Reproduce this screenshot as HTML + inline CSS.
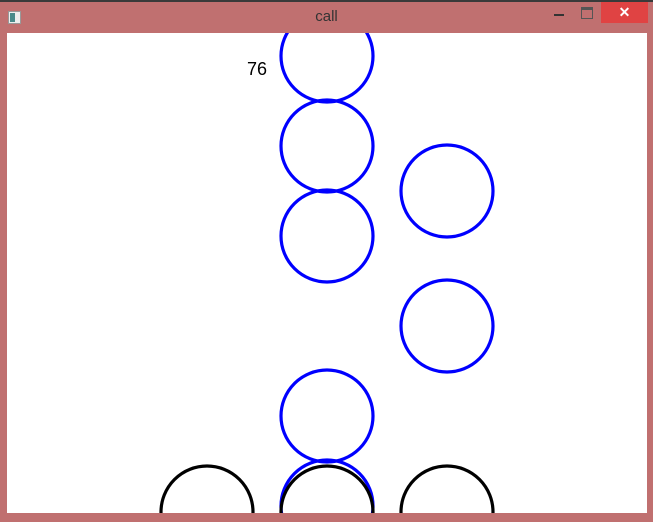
<!DOCTYPE html>
<html style="overflow:hidden;width:653px;height:522px"><head><meta charset="utf-8"><style>
html,body{margin:0;padding:0}
body{width:653px;height:522px;overflow:hidden;background:#c07070;position:relative;font-family:"Liberation Sans",sans-serif}
#title{position:absolute;left:0;width:653px;top:8px;text-align:center;font-size:15px;color:#333}
#client{position:absolute;left:7px;top:33px;width:640px;height:480px;background:#fff;overflow:hidden}
</style></head><body>
<div style="position:absolute;left:0;top:0;width:653px;height:2px;background:#3a3a3a"></div>
<div style="position:absolute;left:8px;top:11px;width:11px;height:11px;background:#eee;border:1px solid #999"><div style="width:5px;height:9px;margin:1px;background:#4a8a8a"></div></div>
<div id="title">call</div>
<div style="position:absolute;left:554px;top:14px;width:10px;height:2px;background:#333"></div>
<div style="position:absolute;left:581px;top:7px;width:10px;height:8px;border:1px solid #555;border-top-width:3px"></div>
<div style="position:absolute;left:601px;top:2px;width:47px;height:21px;background:#e04343;color:#fff;text-align:center;font-weight:bold;font-size:14px;line-height:21px">✕</div>
<div id="client">
<svg width="640" height="480" id="svg" style="display:block">
<text x="240" y="42" font-size="18" fill="#000" font-family="Liberation Sans, sans-serif">76</text>
</svg></div>
<script>
const blueX=[320,320,320,320,320,440,440];
const blueY=[23,113,203,383,473,158,293];
const blackX=[200,320,440];
const blackY=[479,479,479];
const R=46;
const svg=document.getElementById('svg');
function circ(x,y,c,n){const e=document.createElementNS('http://www.w3.org/2000/svg','circle');
e.setAttribute('cx',x);e.setAttribute('cy',y);e.setAttribute('r',R);e.setAttribute('fill','none');e.setAttribute('stroke',c);e.setAttribute('stroke-width',3.2);


svg.appendChild(e);}
blueX.forEach((x,i)=>circ(x,blueY[i],'#0000ff','blue-circle'));
blackX.forEach((x,i)=>circ(x,blackY[i],'#000','black-circle'));
</script>
</body></html>
